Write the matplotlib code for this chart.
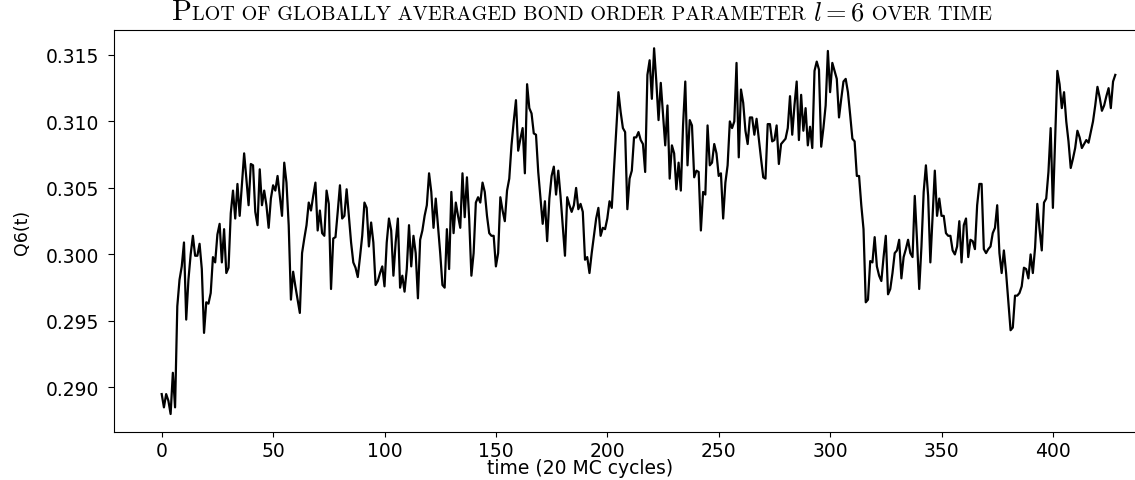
import numpy as np
import matplotlib
matplotlib.use("Agg")
import matplotlib.pyplot as plt
from matplotlib.ticker import MultipleLocator
from matplotlib.offsetbox import TextArea, HPacker, AnchoredOffsetbox

# Globally averaged bond order parameter Q6, sampled every 20 MC cycles
q6 = [
    0.2895, 0.2885, 0.2895, 0.2890, 0.2880, 0.2911, 0.2885, 0.2961, 0.2981, 0.2991,
    0.3009, 0.2951, 0.2981, 0.3000, 0.3014, 0.2999, 0.2999, 0.3008, 0.2989, 0.2941,
    0.2964, 0.2963, 0.2971, 0.2998, 0.2994, 0.3015, 0.3023, 0.2994, 0.3019, 0.2986,
    0.2990, 0.3031, 0.3048, 0.3027, 0.3053, 0.3029, 0.3052, 0.3076,
    0.3057, 0.3037, 0.3068, 0.3067, 0.3032, 0.3022, 0.3064, 0.3037, 0.3048, 0.3037,
    0.3020, 0.3042, 0.3052, 0.3048, 0.3059, 0.3044, 0.3029, 0.3069, 0.3054, 0.3022,
    0.2966, 0.2987, 0.2976, 0.2966, 0.2956, 0.3001, 0.3012, 0.3022, 0.3039, 0.3033,
    0.3044, 0.3054, 0.3018, 0.3033, 0.3016, 0.3014, 0.3048, 0.3038, 0.2974,
    0.3012, 0.3013, 0.3032, 0.3052, 0.3027, 0.3029, 0.3049, 0.3029, 0.3009, 0.2994,
    0.2990, 0.2983, 0.2998, 0.3014, 0.3039, 0.3035, 0.3006, 0.3024, 0.3009, 0.2977,
    0.2980, 0.2986, 0.2991, 0.2976, 0.3009, 0.3027, 0.3018, 0.2984, 0.3009, 0.3027,
    0.2975, 0.2984, 0.2972, 0.2989, 0.3022, 0.2991, 0.3014, 0.3001, 0.2967, 0.3011,
    0.3018, 0.3029, 0.3037, 0.3061, 0.3047, 0.3020, 0.3042, 0.3022, 0.3001, 0.2977,
    0.2975, 0.3019, 0.2989, 0.3047, 0.3016, 0.3039, 0.3029, 0.3020, 0.3061, 0.3028,
    0.3058, 0.3027, 0.2984, 0.3001, 0.3039, 0.3043, 0.3039, 0.3054, 0.3047, 0.3029,
    0.3016, 0.3014, 0.3014, 0.2991, 0.3001, 0.3043, 0.3033, 0.3025, 0.3048, 0.3057,
    0.3082, 0.3100, 0.3116, 0.3078,
    0.3087, 0.3095, 0.3061, 0.3128, 0.3110, 0.3106, 0.3091, 0.3090, 0.3062, 0.3042,
    0.3023, 0.3040, 0.3010, 0.3042, 0.3059, 0.3066, 0.3045, 0.3063, 0.3044, 0.3022,
    0.2999, 0.3043, 0.3037, 0.3032, 0.3037, 0.3050, 0.3034, 0.3038, 0.3032, 0.2996,
    0.2998, 0.2986, 0.3001, 0.3014, 0.3027, 0.3035,
    0.3014, 0.3020, 0.3019, 0.3027, 0.3040, 0.3035, 0.3064, 0.3093, 0.3122, 0.3107,
    0.3095, 0.3092, 0.3034, 0.3057, 0.3063, 0.3088, 0.3088, 0.3092, 0.3086, 0.3083,
    0.3062, 0.3135, 0.3146, 0.3117, 0.3155, 0.3130, 0.3101, 0.3129, 0.3106, 0.3082,
    0.3112, 0.3057, 0.3082, 0.3076, 0.3049, 0.3069, 0.3048, 0.3097, 0.3130, 0.3067,
    0.3101,
    0.3097, 0.3058, 0.3063, 0.3062, 0.3018, 0.3047, 0.3045, 0.3097, 0.3067, 0.3069,
    0.3083, 0.3076, 0.3059, 0.3061, 0.3027, 0.3054, 0.3067, 0.3100, 0.3095, 0.3100,
    0.3144, 0.3073, 0.3124, 0.3114, 0.3093, 0.3083, 0.3103, 0.3103, 0.3090, 0.3102,
    0.3087, 0.3072, 0.3058, 0.3057, 0.3098, 0.3098, 0.3085, 0.3086, 0.3097, 0.3068,
    0.3083, 0.3085, 0.3087, 0.3095, 0.3119,
    0.3090, 0.3112, 0.3130, 0.3086, 0.3120, 0.3093, 0.3110, 0.3082, 0.3096, 0.3080,
    0.3138, 0.3145, 0.3139, 0.3081, 0.3095, 0.3112, 0.3153, 0.3122, 0.3144, 0.3138,
    0.3132, 0.3103, 0.3117, 0.3130, 0.3132, 0.3122, 0.3105, 0.3087, 0.3085, 0.3059,
    0.3059, 0.3037, 0.3019, 0.2964, 0.2966, 0.2995, 0.2994, 0.3013, 0.2991, 0.2984,
    0.2980, 0.2998, 0.3014, 0.2970, 0.2974, 0.2986, 0.3001, 0.3003, 0.3011, 0.2982,
    0.2998, 0.3004, 0.3011, 0.3001, 0.2998, 0.3044, 0.3011, 0.2974, 0.3006, 0.3047,
    0.3067, 0.3044, 0.2994, 0.3029, 0.3063, 0.3029, 0.3042, 0.3029, 0.3029, 0.3016,
    0.3014, 0.3014, 0.3003, 0.3000, 0.3006, 0.3025,
    0.2994, 0.3022, 0.3027, 0.2998, 0.3011, 0.3010, 0.3004, 0.3037, 0.3053, 0.3053,
    0.3004, 0.3001, 0.3004, 0.3006, 0.3016, 0.3020, 0.3037, 0.3001, 0.2986, 0.3003,
    0.2986, 0.2965, 0.2943, 0.2945, 0.2969, 0.2969, 0.2971, 0.2976, 0.2990, 0.2989,
    0.2982, 0.3000, 0.2986, 0.3005, 0.3038, 0.3019, 0.3003, 0.3039, 0.3042, 0.3062,
    0.3095, 0.3035, 0.3087, 0.3138,
    0.3128, 0.3110, 0.3122, 0.3100, 0.3085, 0.3065, 0.3072, 0.3080, 0.3093, 0.3088,
    0.3080, 0.3083, 0.3086, 0.3084, 0.3092, 0.3100, 0.3112, 0.3126, 0.3118, 0.3108,
    0.3112, 0.3119, 0.3125, 0.3110, 0.3130, 0.3135,
]
steps = np.arange(len(q6))

title_lead = "P"
title_caps = "LOT OF GLOBALLY AVERAGED BOND ORDER PARAMETER "
title_math = r"$l = 6$"
title_tail = " OVER TIME"
x_label = "time (20 MC cycles)"
y_label = "Q6(t)"

plt.rcParams["mathtext.fontset"] = "cm"

W, H = 1135, 481
px_per_step = 2.228          # horizontal scale of the time axis
x0_px = 161.7                # where step 0 sits
n = len(q6)
left_px = x0_px - 0.05 * (n - 1) * px_per_step
width_px = 1.1 * (n - 1) * px_per_step
bottom_px, top_px = 433.3, 31.0
height_px = bottom_px - top_px

fig = plt.figure(figsize=(W / 100, H / 100), dpi=100)
ax = fig.add_axes([left_px / W, (H - bottom_px) / H, width_px / W, height_px / H])

ax.plot(steps, q6, color="black", lw=1.6)

ax.xaxis.set_major_locator(MultipleLocator(50))
ax.tick_params(labelsize=13.5, width=0.8)
ax.tick_params(axis="y", length=4.5, pad=6)
ax.tick_params(axis="x", length=3.5, pad=2.5)
for s in ax.spines.values():
    s.set_linewidth(0.8)

ax.set_xlabel(x_label, fontsize=13.5)
ax.set_ylabel(y_label, fontsize=12.5)
ax.xaxis.set_label_coords((580 - left_px) / width_px, -(459 - bottom_px) / height_px)
ax.xaxis.label.set_va("top")
ax.yaxis.set_label_coords(-(left_px - 22) / width_px, 0.5)
ax.yaxis.label.set_va("center")

# small-caps style title assembled from pieces
serif = dict(fontfamily="cmr10", color="black")
parts = [
    TextArea(title_lead, textprops=dict(fontsize=21, **serif)),
    TextArea(title_caps, textprops=dict(fontsize=14.5, **serif)),
    TextArea(title_math, textprops=dict(fontsize=19, color="black")),
    TextArea(title_tail, textprops=dict(fontsize=14.5, **serif)),
]
packer = HPacker(children=parts, align="baseline", pad=0, sep=0)
box = AnchoredOffsetbox(loc="center", child=packer, pad=0, borderpad=0,
                        frameon=False, bbox_to_anchor=(582 / W, 1 - 13 / H),
                        bbox_transform=fig.transFigure)
fig.add_artist(box)

fig.savefig("out.png", dpi=100)
